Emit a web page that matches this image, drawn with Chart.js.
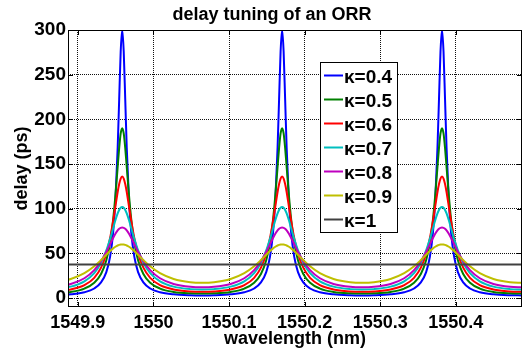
<!DOCTYPE html>
<html>
<head>
<meta charset="utf-8">
<script src="https://cdn.jsdelivr.net/npm/chart.js@4/dist/chart.umd.min.js"></script>
<style>
  html, body { margin: 0; padding: 0; background: #fff; }
  #wrap { width: 523px; height: 351px; }
</style>
</head>
<body>
<div id="wrap"><canvas id="myChart" width="523" height="351"></canvas></div>
<script>
const wavelength = [
  1549.8687,1549.8907,1549.9087,1549.9217,1549.9307,1549.9377,1549.9427,1549.9467,1549.9497,1549.9527,1549.9547,1549.9567,1549.9587,
  1549.9607,1549.9627,1549.9647,1549.9677,1549.9707,1549.9747,1549.9797,1549.9867,1549.9957,1550.0087,1550.0267,1550.0487,1550.0645,
  1550.0802,1550.1022,1550.1202,1550.1332,1550.1422,1550.1492,1550.1542,1550.1582,1550.1612,1550.1642,1550.1662,1550.1682,1550.1702,
  1550.1722,1550.1742,1550.1762,1550.1792,1550.1822,1550.1862,1550.1912,1550.1982,1550.2072,1550.2202,1550.2382,1550.2602,1550.2760,
  1550.2917,1550.3137,1550.3317,1550.3447,1550.3537,1550.3607,1550.3657,1550.3697,1550.3727,1550.3757,1550.3777,1550.3797,1550.3817,
  1550.3837,1550.3857,1550.3877,1550.3907,1550.3937,1550.3977,1550.4027,1550.4097,1550.4187,1550.4317,1550.4497,1550.4717,1550.4875
];

// delay (ps) for each coupling coefficient
const delayK04 = [
  3.2,4.2,6.5,10.7,17.5,29.1,46.3,73.1,108.9,168.3,222.5,275.9,300,275.9,222.5,168.3,108.9,73.1,46.3,29.1,17.5,10.7,6.5,4.2,3.2,3.0,
  3.2,4.2,6.5,10.7,17.5,29.1,46.3,73.1,108.9,168.3,222.5,275.9,300,275.9,222.5,168.3,108.9,73.1,46.3,29.1,17.5,10.7,6.5,4.2,3.2,3.0,
  3.2,4.2,6.5,10.7,17.5,29.1,46.3,73.1,108.9,168.3,222.5,275.9,300,275.9,222.5,168.3,108.9,73.1,46.3,29.1,17.5,10.7,6.5,4.2,3.2,3.0
];
const delayK05 = [
  5.3,6.9,10.6,17.1,27.0,42.3,62.2,87.8,114.6,146.9,168.0,184.2,190,184.2,168.0,146.9,114.6,87.8,62.2,42.3,27.0,17.1,10.6,6.9,5.3,5.0,
  5.3,6.9,10.6,17.1,27.0,42.3,62.2,87.8,114.6,146.9,168.0,184.2,190,184.2,168.0,146.9,114.6,87.8,62.2,42.3,27.0,17.1,10.6,6.9,5.3,5.0,
  5.3,6.9,10.6,17.1,27.0,42.3,62.2,87.8,114.6,146.9,168.0,184.2,190,184.2,168.0,146.9,114.6,87.8,62.2,42.3,27.0,17.1,10.6,6.9,5.3,5.0
];
const delayK06 = [
  7.4,9.6,14.4,22.6,34.0,49.7,67.3,86.1,102.5,118.7,127.7,133.8,136,133.8,127.7,118.7,102.5,86.1,67.3,49.7,34.0,22.6,14.4,9.6,7.4,7.0,
  7.4,9.6,14.4,22.6,34.0,49.7,67.3,86.1,102.5,118.7,127.7,133.8,136,133.8,127.7,118.7,102.5,86.1,67.3,49.7,34.0,22.6,14.4,9.6,7.4,7.0,
  7.4,9.6,14.4,22.6,34.0,49.7,67.3,86.1,102.5,118.7,127.7,133.8,136,133.8,127.7,118.7,102.5,86.1,67.3,49.7,34.0,22.6,14.4,9.6,7.4,7.0
];
const delayK07 = [
  10.0,12.8,18.7,27.9,39.4,53.3,66.3,78.1,87.0,94.7,98.6,101.1,102,101.1,98.6,94.7,87.0,78.1,66.3,53.3,39.4,27.9,18.7,12.8,10.0,9.5,
  10.0,12.8,18.7,27.9,39.4,53.3,66.3,78.1,87.0,94.7,98.6,101.1,102,101.1,98.6,94.7,87.0,78.1,66.3,53.3,39.4,27.9,18.7,12.8,10.0,9.5,
  10.0,12.8,18.7,27.9,39.4,53.3,66.3,78.1,87.0,94.7,98.6,101.1,102,101.1,98.6,94.7,87.0,78.1,66.3,53.3,39.4,27.9,18.7,12.8,10.0,9.5
];
const delayK08 = [
  12.6,15.8,22.2,31.3,41.3,51.8,60.3,67.2,71.9,75.7,77.5,78.6,79,78.6,77.5,75.7,71.9,67.2,60.3,51.8,41.3,31.3,22.2,15.8,12.6,12.0,
  12.6,15.8,22.2,31.3,41.3,51.8,60.3,67.2,71.9,75.7,77.5,78.6,79,78.6,77.5,75.7,71.9,67.2,60.3,51.8,41.3,31.3,22.2,15.8,12.6,12.0,
  12.6,15.8,22.2,31.3,41.3,51.8,60.3,67.2,71.9,75.7,77.5,78.6,79,78.6,77.5,75.7,71.9,67.2,60.3,51.8,41.3,31.3,22.2,15.8,12.6,12.0
];
const delayK09 = [
  17.7,21.3,27.8,35.5,42.5,48.5,52.6,55.6,57.4,58.8,59.5,59.9,60,59.9,59.5,58.8,57.4,55.6,52.6,48.5,42.5,35.5,27.8,21.3,17.7,17.0,
  17.7,21.3,27.8,35.5,42.5,48.5,52.6,55.6,57.4,58.8,59.5,59.9,60,59.9,59.5,58.8,57.4,55.6,52.6,48.5,42.5,35.5,27.8,21.3,17.7,17.0,
  17.7,21.3,27.8,35.5,42.5,48.5,52.6,55.6,57.4,58.8,59.5,59.9,60,59.9,59.5,58.8,57.4,55.6,52.6,48.5,42.5,35.5,27.8,21.3,17.7,17.0
];
// kappa = 1 is flat
const flatWavelength = [1549.887, 1550.4875];
const delayK1 = [37.5, 37.5];

const kappaLabels = ['κ=0.4','κ=0.5','κ=0.6','κ=0.7','κ=0.8','κ=0.9','κ=1'];
const lineColors = ['#0000ff','#008000','#ff0000','#00bfbf','#bf00bf','#bfbf00','#404040'];
const xTicks = [1549.9, 1550, 1550.1, 1550.2, 1550.3, 1550.4];
const yTicks = [0, 50, 100, 150, 200, 250, 300];

const FONT = '"Liberation Sans", Arial, Helvetica, sans-serif';

function toPoints(xs, ys) {
  return xs.map((x, i) => ({x: x, y: ys[i]}));
}

const series = [delayK04, delayK05, delayK06, delayK07, delayK08, delayK09];
const datasets = series.map((ys, i) => ({
  label: kappaLabels[i],
  data: toPoints(wavelength, ys),
  borderColor: lineColors[i],
  borderWidth: 2,
  pointRadius: 0,
  cubicInterpolationMode: 'monotone',
  order: 6 - i
}));
datasets.push({
  label: kappaLabels[6],
  data: toPoints(flatWavelength, delayK1),
  borderColor: lineColors[6],
  borderWidth: 2,
  pointRadius: 0,
  order: 0
});

// box, inward ticks, titles and legend drawn matlab-style
const matlabLook = {
  id: 'matlabLook',
  afterDraw(chart) {
    const ctx = chart.ctx;
    const a = chart.chartArea;
    const xs = chart.scales.x, ys = chart.scales.y;
    ctx.save();
    ctx.strokeStyle = '#000';
    ctx.lineWidth = 1;
    ctx.strokeRect(a.left + 0.5, a.top + 0.5, a.right - a.left - 1, a.bottom - a.top - 1);

    ctx.beginPath();
    xTicks.forEach(v => {
      const px = Math.round(xs.getPixelForValue(v)) + 0.5;
      ctx.moveTo(px, a.bottom); ctx.lineTo(px, a.bottom - 5);
      ctx.moveTo(px, a.top); ctx.lineTo(px, a.top + 5);
    });
    yTicks.forEach(v => {
      const py = Math.round(ys.getPixelForValue(v)) + 0.5;
      ctx.moveTo(a.left, py); ctx.lineTo(a.left + 5, py);
      ctx.moveTo(a.right, py); ctx.lineTo(a.right - 5, py);
    });
    ctx.stroke();

    ctx.fillStyle = '#000';
    ctx.font = 'bold 18px ' + FONT;
    ctx.textAlign = 'center';
    ctx.textBaseline = 'middle';
    ctx.fillText('delay tuning of an ORR', 272, 15);
    ctx.fillText('wavelength (nm)', (a.left + a.right) / 2, 339);
    ctx.save();
    ctx.translate(22, (a.top + a.bottom) / 2);
    ctx.rotate(-Math.PI / 2);
    ctx.fillText('delay (ps)', 0, 0);
    ctx.restore();

    // legend
    const bx = 320, by = 62, bw = 77, bh = 170;
    ctx.fillStyle = '#fff';
    ctx.fillRect(bx, by, bw, bh);
    ctx.strokeStyle = '#000';
    ctx.lineWidth = 1;
    ctx.strokeRect(bx + 0.5, by + 0.5, bw, bh);
    ctx.textAlign = 'left';
    ctx.font = 'bold 19px ' + FONT;
    kappaLabels.forEach((lab, i) => {
      const yy = 75.5 + i * 24;
      ctx.strokeStyle = lineColors[i];
      ctx.lineWidth = 2;
      ctx.beginPath();
      ctx.moveTo(324, yy); ctx.lineTo(343, yy);
      ctx.stroke();
      ctx.fillStyle = '#000';
      ctx.fillText(lab, 344, yy + 2);
    });
    ctx.restore();
  }
};

const grapharea = document.getElementById('myChart').getContext('2d');
const mychart = new Chart(grapharea, {
  type: 'line',
  data: { datasets: datasets },
  options: {
    responsive: false,
    animation: false,
    devicePixelRatio: 1,
    layout: { padding: { top: 30, right: 1, left: 0, bottom: 0 } },
    plugins: {
      legend: { display: false },
      title: { display: false },
      tooltip: { enabled: false }
    },
    scales: {
      x: {
        type: 'linear',
        min: 1549.887,
        max: 1550.4875,
        afterBuildTicks: s => { s.ticks = xTicks.map(v => ({value: v})); },
        afterFit: s => { s.height = 44; },
        ticks: {
          color: '#000',
          font: { family: FONT, size: 18, weight: 'bold' },
          padding: 5,
          maxRotation: 0,
          autoSkip: false,
          callback: v => String(v)
        },
        grid: { color: '#111', lineWidth: 1, drawTicks: false },
        border: { display: false, dash: [1, 1] }
      },
      y: {
        type: 'linear',
        min: -10,
        max: 300,
        afterBuildTicks: s => { s.ticks = yTicks.map(v => ({value: v})); },
        afterFit: s => { s.width = 68; },
        ticks: {
          color: '#000',
          font: { family: FONT, size: 19, weight: 'bold' },
          padding: 2
        },
        grid: { color: '#111', lineWidth: 1, drawTicks: false },
        border: { display: false, dash: [1, 1] }
      }
    }
  },
  plugins: [matlabLook]
});
</script>
</body>
</html>
